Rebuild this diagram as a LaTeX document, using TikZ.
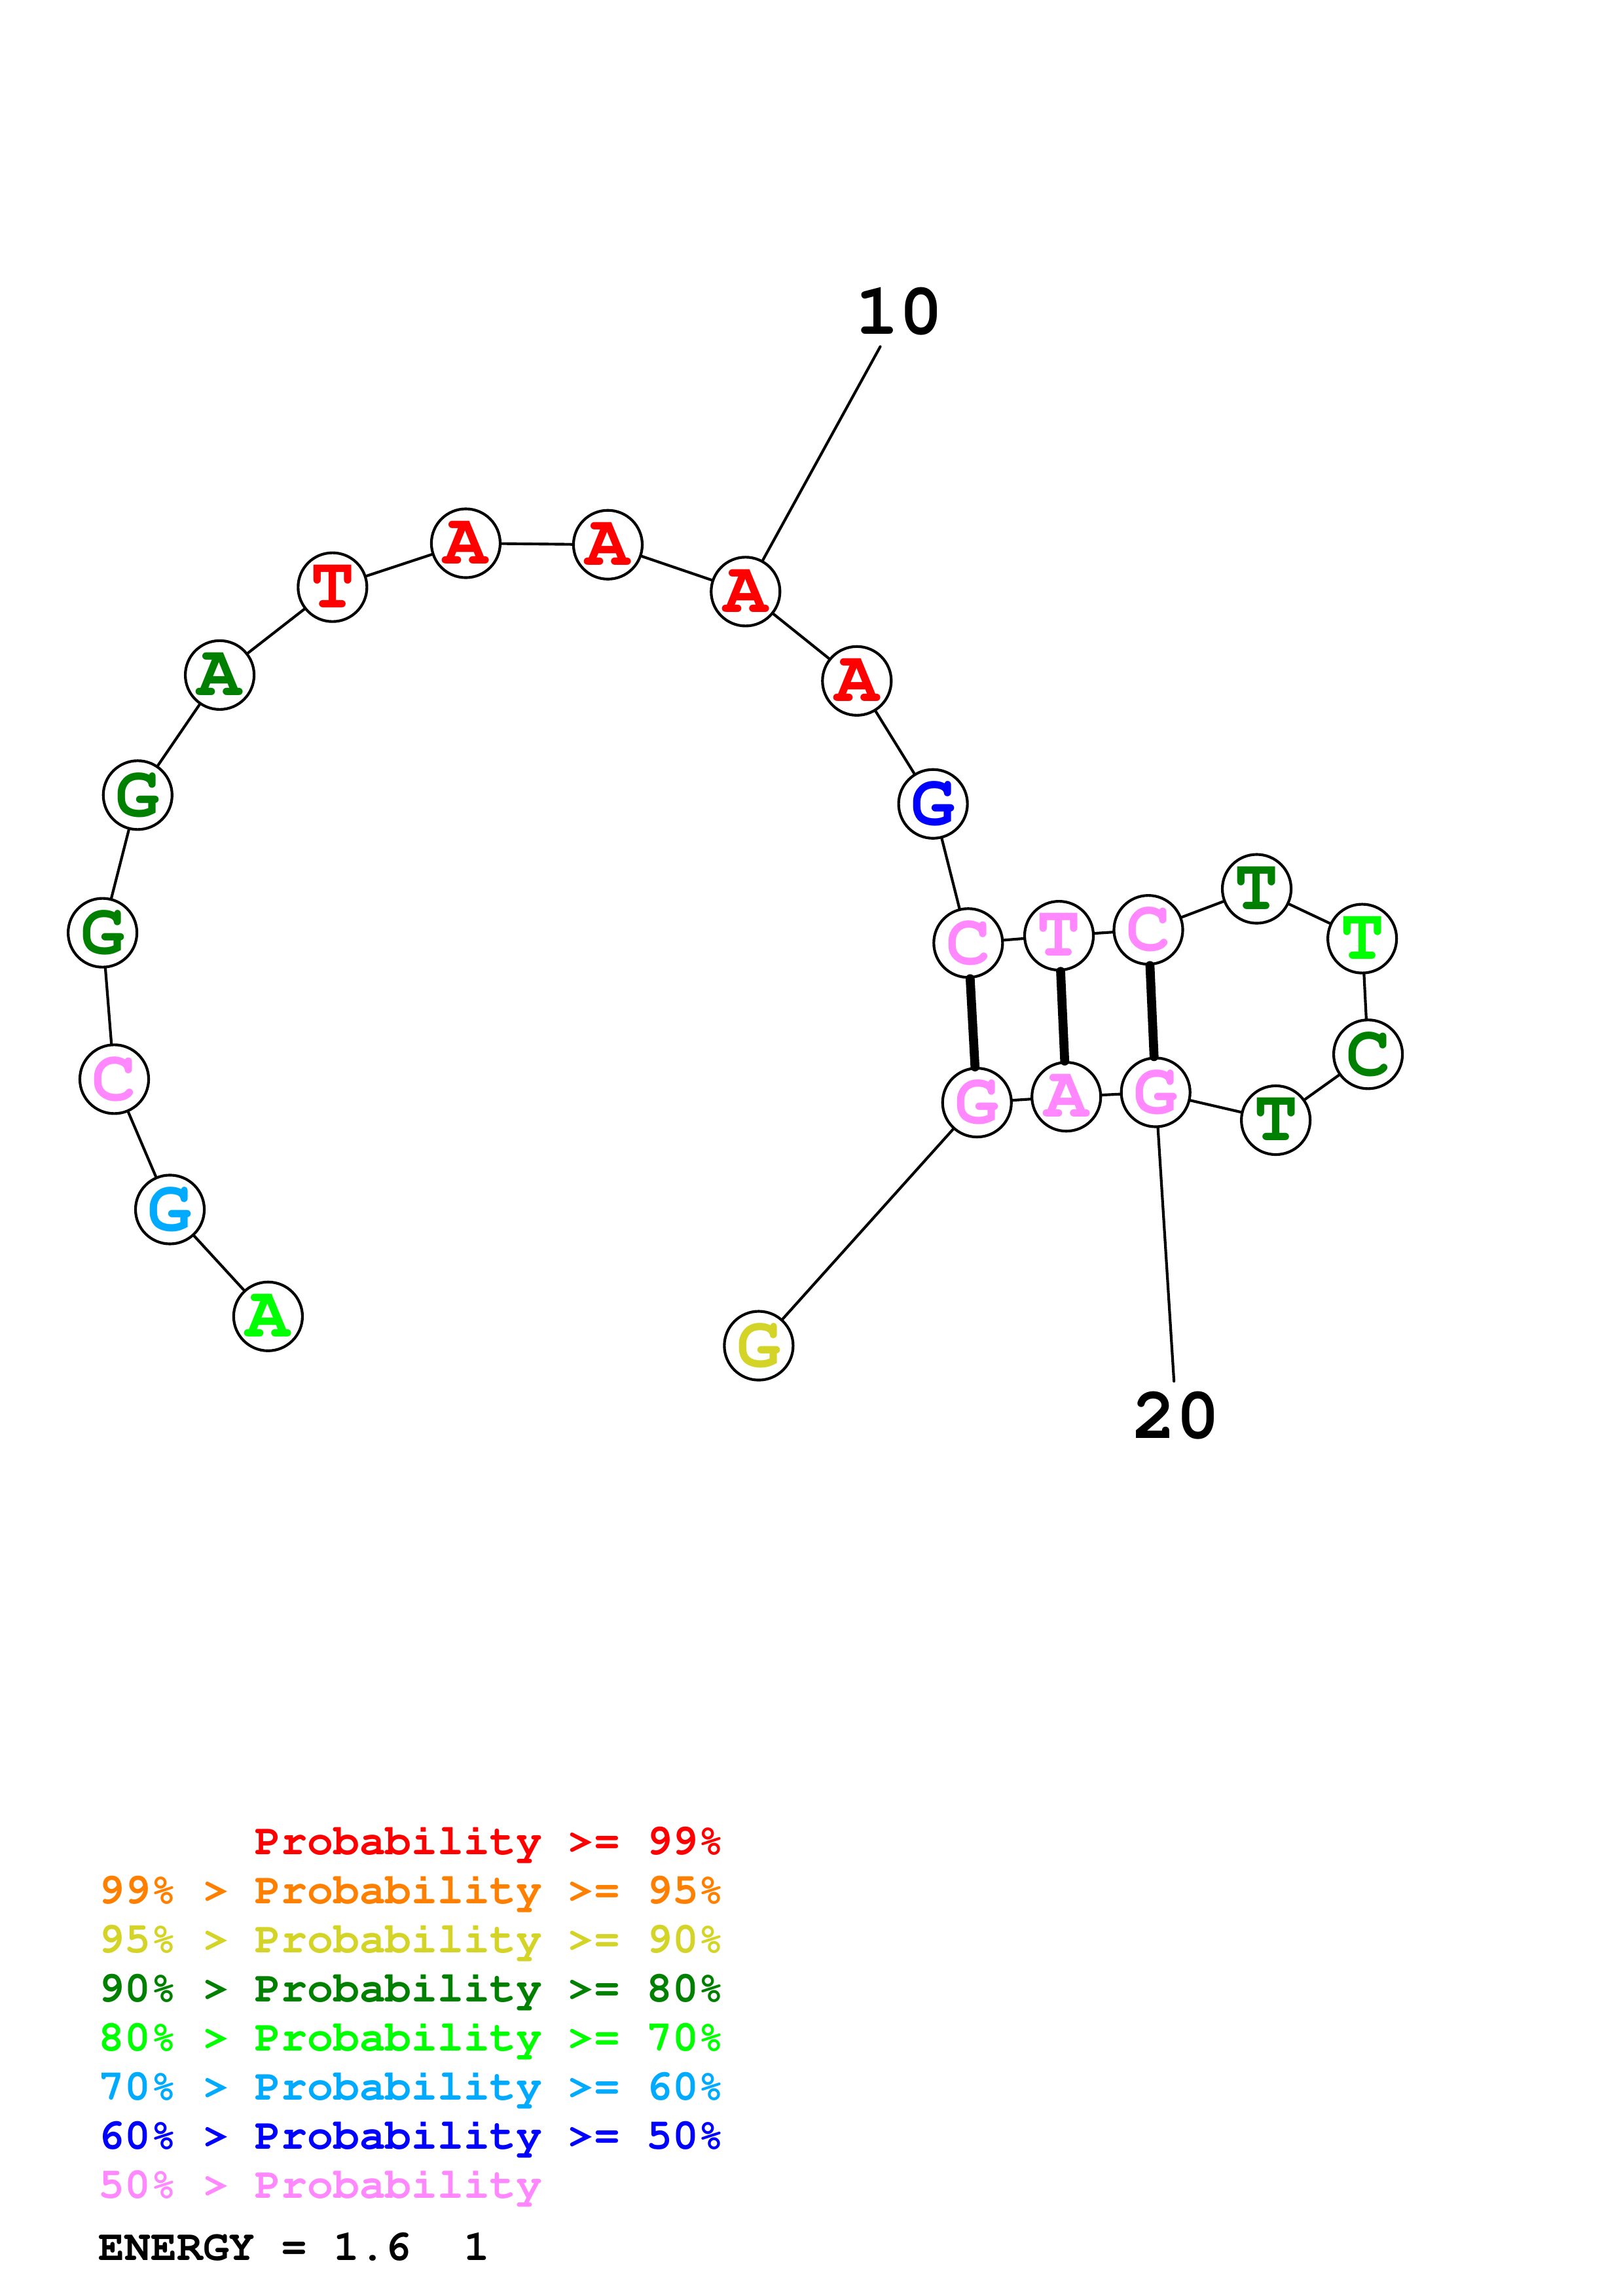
\documentclass[tikz,border=0pt]{standalone}
\usepackage[T1]{fontenc}
\usepackage{tikz}

\definecolor{pone}{RGB}{255,0,0}
\definecolor{ptwo}{RGB}{255,128,0}
\definecolor{pthree}{RGB}{212,212,40}
\definecolor{pfour}{RGB}{0,128,0}
\definecolor{pfive}{RGB}{0,255,0}
\definecolor{psix}{RGB}{0,170,255}
\definecolor{pseven}{RGB}{0,0,255}
\definecolor{peight}{RGB}{255,136,255}
\newcommand{\seqfont}[1]{\fontfamily{pcr}\fontseries{b}\fontsize{#1}{#1}\selectfont}

\begin{document}
\begin{tikzpicture}
     [x=0.018953cm,y=-0.018953cm,line cap=round,
      % Styles
        base/.style={circle,draw,line width=1pt,fill=white,minimum size=0.89cm,inner sep=0pt,font=\seqfont{27}},
        backbone/.style={line width=1pt},
        pair/.style={line width=3.3pt},
        number/.style={inner sep=1pt,outer sep=3pt,font=\seqfont{27}},
        legend/.style={anchor=base west,inner sep=0pt,font=\seqfont{16}}]
    \useasboundingbox (0,0) rectangle (1108,1568);
    % bases, 5' to 3'
    \node[base,text=pfive]  (n1)  at (183,899) {A};
    \node[base,text=psix]   (n2)  at (116,826) {G};
    \node[base,text=peight] (n3)  at (78,737)  {C};
    \node[base,text=pfour]  (n4)  at (70,637)  {G};
    \node[base,text=pfour]  (n5)  at (94,543)  {G};
    \node[base,text=pfour]  (n6)  at (150,461) {A};
    \node[base,text=pone]   (n7)  at (227,401) {T};
    \node[base,text=pone]   (n8)  at (318,371) {A};
    \node[base,text=pone]   (n9)  at (415,372) {A};
    \node[base,text=pone]   (n10) at (509,404) {A};
    \node[base,text=pone]   (n11) at (585,465) {A};
    \node[base,text=pseven] (n12) at (637,549) {G};
    \node[base,text=peight] (n13) at (661,644) {C};
    \node[base,text=peight] (n14) at (723,639) {T};
    \node[base,text=peight] (n15) at (784,635) {C};
    \node[base,text=pfour]  (n16) at (858,607) {T};
    \node[base,text=pfive]  (n17) at (930,641) {T};
    \node[base,text=pfour]  (n18) at (934,720) {C};
    \node[base,text=pfour]  (n19) at (871,765) {T};
    \node[base,text=peight] (n20) at (789,746) {G};
    \node[base,text=peight] (n21) at (728,749) {A};
    \node[base,text=peight] (n22) at (667,753) {G};
    \node[base,text=pthree] (n23) at (518,919) {G};
    % backbone
    \draw[backbone] (n1) -- (n2) -- (n3) -- (n4) -- (n5) -- (n6) -- (n7) -- (n8)
      -- (n9) -- (n10) -- (n11) -- (n12) -- (n13) -- (n14) -- (n15) -- (n16)
      -- (n17) -- (n18) -- (n19) -- (n20) -- (n21) -- (n22) -- (n23);
    % base pairs
    \draw[pair] (n13) -- (n22);
    \draw[pair] (n14) -- (n21);
    \draw[pair] (n15) -- (n20);
    % position numbers
    \node[number] (lab10) at (614,213) {10};
    \node[number] (lab20) at (803,967) {20};
    \draw[backbone] (n10) -- (lab10);
    \draw[backbone] (n20) -- (lab20);
    % legend
    \node[legend,text=pone]   (l1) at (67,1266.6) {\phantom{99\% > }Probability >= 99\%};
    \node[legend,text=ptwo]   (l2) at (67,1300.1) {99\% > Probability >= 95\%};
    \node[legend,text=pthree] (l3) at (67,1333.6) {95\% > Probability >= 90\%};
    \node[legend,text=pfour]  (l4) at (67,1367.1) {90\% > Probability >= 80\%};
    \node[legend,text=pfive]  (l5) at (67,1400.6) {80\% > Probability >= 70\%};
    \node[legend,text=psix]   (l6) at (67,1434.1) {70\% > Probability >= 60\%};
    \node[legend,text=pseven] (l7) at (67,1467.6) {60\% > Probability >= 50\%};
    \node[legend,text=peight] (l8) at (67,1501.1) {50\% > Probability};
    \node[legend] (energy) at (67,1543.8) {ENERGY = 1.6\ \ 1};
\end{tikzpicture}
\end{document}
